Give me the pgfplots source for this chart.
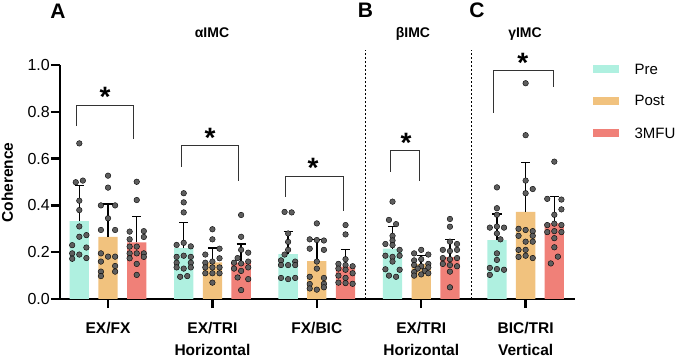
\documentclass[border=0pt]{standalone}
\usepackage{pgfplots}
\pgfplotsset{compat=1.18}
\usepackage{fontspec}
\setmainfont{Liberation Sans}

\definecolor{cpre}{HTML}{AFF0E0}
\definecolor{cpost}{HTML}{F1C27E}
\definecolor{cmfu}{HTML}{F08078}
\definecolor{dotgray}{HTML}{5E5E5E}
\definecolor{bracketc}{HTML}{333333}

\pgfplotsset{
  meanbar/.style={ybar, bar width=0.185, bar shift=0pt, draw=none, fill=#1,
    error bars/.cd, y dir=plus, y explicit,
    error bar style={line width=1.5pt, black},
    error mark options={rotate=90, mark size=4.6pt, line width=1.5pt, black}},
  subject/.style={only marks, mark=*, mark size=2.8pt,
    mark options={fill=dotgray, draw=none}},
}

\begin{document}
\begin{tikzpicture}
\begin{axis}[
  at={(0pt,0pt)}, anchor=south west,
  scale only axis, width=515pt, height=234pt,
  xmin=-0.46, xmax=4.473, ymin=0, ymax=1,
  axis x line=bottom, axis y line=left,
  axis line style={line width=2.3pt, -},
  clip=false,
  xtick={0,1,2,3,4},
  xticklabels={EX/FX,EX/TRI,FX/BIC,EX/TRI,BIC/TRI},
  ytick={0,0.2,0.4,0.6,0.8,1.0},
  tick align=outside,
  tick style={line width=2.3pt, black},
  major tick length=9pt,
  /pgf/number format/assume math mode=true,
  yticklabel style={font=\fontsize{16}{19}\selectfont,
    /pgf/number format/fixed, /pgf/number format/fixed zerofill,
    /pgf/number format/precision=1, inner sep=1pt},
  xticklabel style={font=\bfseries\fontsize{15.5}{18}\selectfont,
    anchor=base, yshift=-25pt},
]

% group means with SD (upper whisker only)
\addplot[meanbar=cpre] coordinates {
  (-0.275,0.333) +- (0,0.151)
  (0.725,0.217)  +- (0,0.109)
  (1.725,0.192)  +- (0,0.096)
  (2.725,0.215)  +- (0,0.094)
  (3.725,0.252)  +- (0,0.111)
};
\addplot[meanbar=cpost] coordinates {
  (0,0.266) +- (0,0.139)
  (1,0.157) +- (0,0.060)
  (2,0.162) +- (0,0.093)
  (3,0.150) +- (0,0.035)
  (4,0.372) +- (0,0.211)
};
\addplot[meanbar=cmfu] coordinates {
  (0.275,0.242) +- (0,0.110)
  (1.275,0.155) +- (0,0.079)
  (2.275,0.138) +- (0,0.074)
  (3.275,0.179) +- (0,0.076)
  (4.275,0.323) +- (0,0.114)
};

% individual subjects
\addplot[subject] coordinates {
  (-0.275,0.665) (-0.241,0.506) (-0.309,0.499) (-0.275,0.420) (-0.275,0.380)
  (-0.275,0.310) (-0.207,0.273) (-0.275,0.266) (-0.343,0.230) (-0.207,0.220)
  (-0.343,0.195) (-0.275,0.190) (-0.207,0.175) (-0.343,0.172)
};
\addplot[subject] coordinates {
  (0,0.527) (0,0.476) (-0.068,0.400) (0.068,0.400) (0,0.345)
  (-0.068,0.295) (0.068,0.295) (-0.068,0.195) (0,0.181) (0.068,0.181)
  (-0.068,0.160) (0.068,0.141) (-0.068,0.117) (0.068,0.117) (-0.068,0.098)
};
\addplot[subject] coordinates {
  (0.275,0.501) (0.275,0.423) (0.207,0.288) (0.343,0.290) (0.207,0.255)
  (0.343,0.265) (0.207,0.224) (0.275,0.224) (0.207,0.195) (0.275,0.195)
  (0.343,0.195) (0.207,0.174) (0.343,0.180) (0.275,0.150) (0.275,0.103)
};
\addplot[subject] coordinates {
  (0.725,0.452) (0.725,0.413) (0.725,0.370) (0.657,0.231) (0.725,0.240)
  (0.793,0.225) (0.657,0.180) (0.725,0.185) (0.793,0.180) (0.657,0.155)
  (0.793,0.155) (0.657,0.135) (0.725,0.130) (0.793,0.135) (0.691,0.095)
  (0.759,0.098)
};
\addplot[subject] coordinates {
  (1,0.298) (1,0.255) (1.068,0.215) (0.932,0.190) (1.068,0.174)
  (1,0.160) (0.932,0.155) (0.932,0.135) (1,0.135) (1.068,0.135)
  (0.932,0.110) (1,0.110) (1.068,0.110) (1,0.070)
};
\addplot[subject] coordinates {
  (1.275,0.359) (1.275,0.266) (1.275,0.210) (1.343,0.198) (1.241,0.175)
  (1.207,0.155) (1.275,0.152) (1.343,0.160) (1.207,0.130) (1.343,0.135)
  (1.275,0.120) (1.241,0.092) (1.343,0.085) (1.275,0.038)
};
\addplot[subject] coordinates {
  (1.691,0.372) (1.759,0.370) (1.725,0.280) (1.725,0.244) (1.725,0.210)
  (1.691,0.190) (1.657,0.165) (1.793,0.160) (1.657,0.145) (1.725,0.145)
  (1.793,0.145) (1.657,0.090) (1.725,0.085) (1.793,0.090)
};
\addplot[subject] coordinates {
  (2,0.323) (1.932,0.255) (2,0.252) (2.068,0.250) (1.932,0.215)
  (2.068,0.210) (2,0.160) (2,0.130) (1.932,0.095) (2.068,0.090)
  (1.932,0.064) (2.068,0.065) (1.932,0.045) (2,0.040) (2.068,0.050)
};
\addplot[subject] coordinates {
  (2.275,0.316) (2.275,0.276) (2.275,0.170) (2.207,0.150) (2.275,0.145)
  (2.343,0.140) (2.207,0.130) (2.275,0.125) (2.343,0.110) (2.207,0.100)
  (2.275,0.090) (2.207,0.070) (2.275,0.068) (2.343,0.065)
};
\addplot[subject] coordinates {
  (2.725,0.416) (2.691,0.338) (2.759,0.320) (2.725,0.270) (2.725,0.250)
  (2.657,0.235) (2.725,0.230) (2.793,0.210) (2.657,0.185) (2.725,0.180)
  (2.793,0.185) (2.725,0.160) (2.657,0.127) (2.793,0.125) (2.691,0.100)
  (2.759,0.095)
};
\addplot[subject] coordinates {
  (3,0.210) (2.932,0.195) (3.068,0.190) (3,0.170) (2.932,0.165)
  (3.068,0.150) (2.932,0.145) (3,0.140) (3.068,0.135) (2.966,0.130)
  (3.034,0.120) (2.932,0.115) (3.068,0.110) (3,0.105) (2.932,0.100)
};
\addplot[subject] coordinates {
  (3.275,0.342) (3.275,0.309) (3.275,0.245) (3.343,0.235) (3.207,0.210)
  (3.275,0.205) (3.343,0.210) (3.207,0.175) (3.275,0.170) (3.343,0.175)
  (3.207,0.150) (3.275,0.145) (3.343,0.140) (3.275,0.117) (3.275,0.050)
};
\addplot[subject] coordinates {
  (3.725,0.477) (3.725,0.388) (3.725,0.360) (3.657,0.305) (3.725,0.310)
  (3.793,0.305) (3.725,0.280) (3.759,0.255) (3.725,0.195) (3.725,0.167)
  (3.657,0.133) (3.725,0.128) (3.793,0.125) (3.657,0.103)
};
\addplot[subject] coordinates {
  (4,0.922) (4,0.700) (4,0.506) (4,0.452) (4.068,0.470)
  (3.932,0.300) (4,0.295) (4.068,0.290) (3.932,0.270) (4.068,0.270)
  (4,0.245) (4.068,0.245) (3.932,0.210) (4,0.210) (3.932,0.180)
  (4,0.185) (4.068,0.175)
};
\addplot[subject] coordinates {
  (4.275,0.587) (4.207,0.428) (4.343,0.425) (4.343,0.383) (4.275,0.360)
  (4.207,0.316) (4.275,0.322) (4.343,0.316) (4.207,0.286) (4.275,0.290)
  (4.343,0.286) (4.275,0.260) (4.275,0.221) (4.309,0.181) (4.241,0.152)
};

% panel separators
\draw[dash pattern=on 2.3pt off 1.7pt, line width=1pt]
  (axis cs:2.462,0) -- (axis cs:2.462,1.064);
\draw[dash pattern=on 2.3pt off 1.7pt, line width=1pt]
  (axis cs:3.484,0) -- (axis cs:3.484,1.064);

% significance brackets
\begin{scope}[line width=1.1pt, bracketc]
  \draw (axis cs:-0.300,0.739) |- (axis cs:0.242,0.828) -- (axis cs:0.242,0.682);
  \draw (axis cs:0.706,0.565) |- (axis cs:1.248,0.655) -- (axis cs:1.248,0.505);
  \draw (axis cs:1.702,0.437) |- (axis cs:2.254,0.523) -- (axis cs:2.254,0.377);
  \draw (axis cs:2.708,0.544) |- (axis cs:2.982,0.634) -- (axis cs:2.982,0.505);
  \draw (axis cs:3.691,0.796) |- (axis cs:4.265,0.976) -- (axis cs:4.265,0.907);
\end{scope}
\begin{scope}[every node/.style={font=\bfseries\fontsize{28}{28}\selectfont,
    anchor=base, inner sep=0pt, yshift=-16pt}]
  \node at (axis cs:-0.029,0.890) {*};
  \node at (axis cs:0.977,0.715) {*};
  \node at (axis cs:1.964,0.587) {*};
  \node at (axis cs:2.854,0.694) {*};
  \node at (axis cs:3.972,1.035) {*};
\end{scope}

% second row of category labels
\begin{scope}[every node/.style={font=\bfseries\fontsize{15.5}{18}\selectfont,
    anchor=base, inner sep=0pt}]
  \node at ([yshift=-56.3pt]axis cs:1,0) {Horizontal};
  \node at ([yshift=-56.3pt]axis cs:3,0) {Horizontal};
  \node at ([yshift=-56.3pt]axis cs:4,0) {Vertical};
\end{scope}
\end{axis}

% y label
\node[rotate=90, font=\bfseries\fontsize{15.5}{18}\selectfont, inner sep=0pt]
  at (-52.7pt,116.5pt) {Coherence};

% panel letters and titles
\begin{scope}[every node/.style={anchor=base, inner sep=0pt}]
  \node[font=\bfseries\fontsize{21}{24}\selectfont] at (-2pt,280.7pt) {A};
  \node[font=\bfseries\fontsize{21}{24}\selectfont] at (305.5pt,281.7pt) {B};
  \node[font=\bfseries\fontsize{21}{24}\selectfont] at (417pt,281.5pt) {C};
  \node[font=\bfseries\fontsize{14}{17}\selectfont] at (152pt,261.3pt) {αIMC};
  \node[font=\bfseries\fontsize{14}{17}\selectfont] at (353pt,261.3pt) {βIMC};
  \node[font=\bfseries\fontsize{14}{17}\selectfont] at (465pt,261.3pt) {γIMC};
\end{scope}

% legend
\fill[cpre]  (533.3pt,225.6pt) rectangle (559.3pt,233.9pt);
\fill[cpost] (533.3pt,194.1pt) rectangle (559.3pt,202.4pt);
\fill[cmfu]  (533.3pt,161.7pt) rectangle (559.3pt,170.0pt);
\begin{scope}[every node/.style={anchor=west, inner sep=0pt,
    font=\fontsize{15}{18}\selectfont}]
  \node at (574.3pt,229.8pt) {Pre};
  \node at (574.3pt,198.2pt) {Post};
  \node at (574.3pt,165.8pt) {3MFU};
\end{scope}

\pgfresetboundingbox
\path (-60pt,-59pt) rectangle (616pt,299pt);
\end{tikzpicture}
\end{document}
